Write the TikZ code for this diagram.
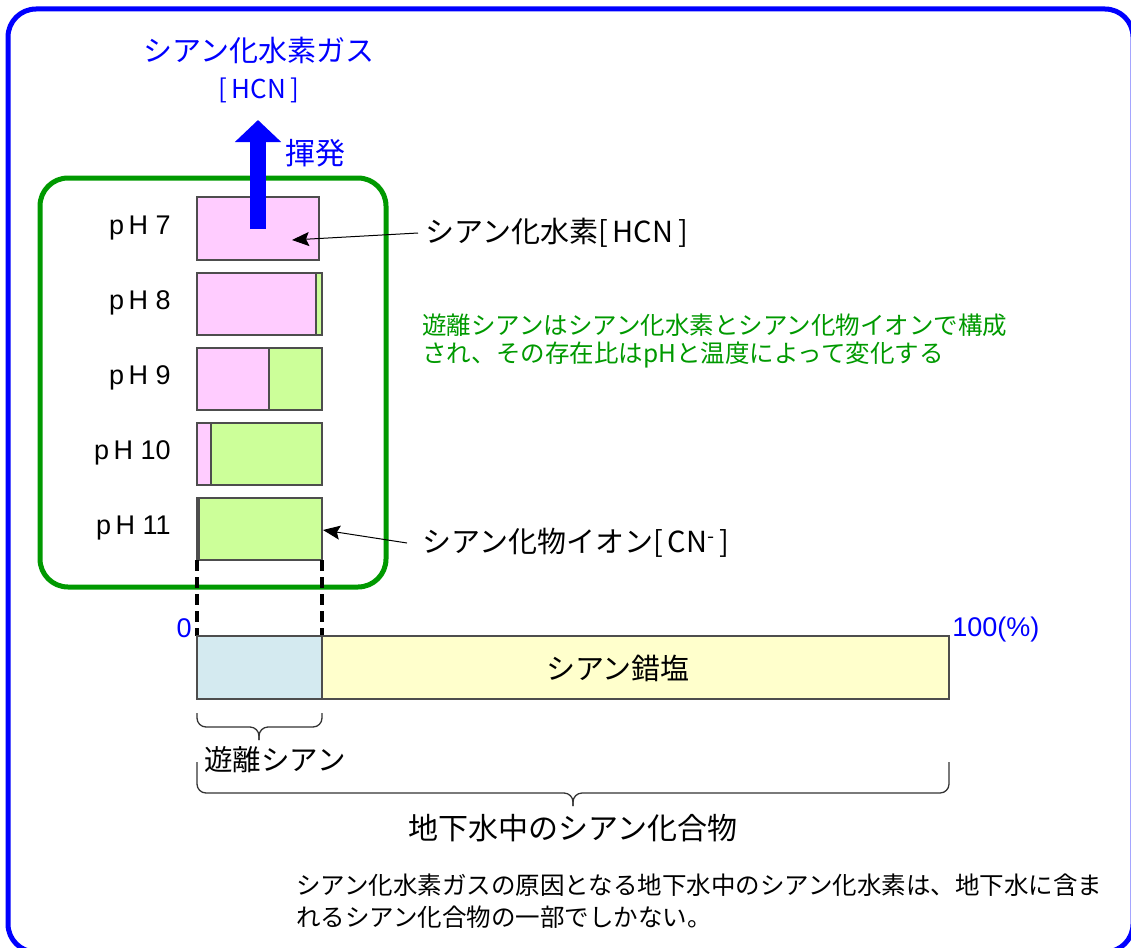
\documentclass[tikz,border=0pt]{standalone}
\usepackage{fontspec}
\setmainfont{Noto Sans CJK JP}
\newfontfamily\arialfont{Liberation Sans}
\usetikzlibrary{arrows.meta}

\definecolor{pureblue}{HTML}{0000FF}
\definecolor{boxgreen}{HTML}{009900}
\definecolor{hcnpink}{HTML}{FFCCFF}
\definecolor{cngreen}{HTML}{CCFF99}
\definecolor{freeblue}{HTML}{D4EAF0}
\definecolor{saltyellow}{HTML}{FFFFCC}
\definecolor{framegray}{HTML}{4D4D4D}

\newcommand\jpsize[2]{\fontsize{#1}{#2}\selectfont}

\begin{document}
\begin{tikzpicture}[x=1pt,y=-1pt,thick,
    every node/.style={inner sep=0pt},
    barframe/.style={draw=framegray,line width=1.2pt},
    phlabel/.style={anchor=east,font=\arialfont\jpsize{27}{30}},
    bluetext/.style={text=pureblue},
    pointer/.style={line width=1pt,-{Stealth[length=17pt,width=14pt,inset=3pt]}},
    vapour/.style={draw=pureblue,line width=16pt,-{Triangle[length=22pt,width=45pt]}},
    guide/.style={line width=3.5pt,dash pattern=on 11pt off 6pt},
    bracket/.style={draw=black!80,line width=1.3pt,rounded corners=9pt},
    groupbox/.style={draw=boxgreen,line width=5pt,rounded corners=28pt},
    outerframe/.style={draw=pureblue,line width=5pt,rounded corners=28pt}]

    \useasboundingbox (0,0) rectangle (1131,947);

    % --------------------------------------------------------- %
    % ------------- frames
    % --------------------------------------------------------- %
    \draw[outerframe] (8,9) rectangle (1133,952);
    \draw[groupbox] (40,178) rectangle (386,587);

    % --------------------------------------------------------- %
    % ------------- pH bars (HCN / CN-)
    % --------------------------------------------------------- %
    \draw[barframe,fill=hcnpink] (197,197) rectangle (319,260);

    \draw[barframe,fill=hcnpink] (197,273) rectangle (316,335);
    \draw[barframe,fill=cngreen] (316,273) rectangle (322,335);

    \draw[barframe,fill=hcnpink] (197,348) rectangle (269,410);
    \draw[barframe,fill=cngreen] (269,348) rectangle (322,410);

    \draw[barframe,fill=hcnpink] (197,423) rectangle (211,485);
    \draw[barframe,fill=cngreen] (211,423) rectangle (322,485);

    \draw[barframe,fill=hcnpink] (197,498) rectangle (199,560);
    \draw[barframe,fill=cngreen] (199,498) rectangle (322,560);

    \node[phlabel] (ph7) at (171,228) {p\,H 7};
    \node[phlabel] (ph8) at (171,303) {p\,H 8};
    \node[phlabel] (ph9) at (171,378) {p\,H 9};
    \node[phlabel] (ph10) at (171,453) {p\,H 10};
    \node[phlabel] (ph11) at (171,528) {p\,H 11};

    % --------------------------------------------------------- %
    % ------------- volatilisation
    % --------------------------------------------------------- %
    \node[bluetext,font=\jpsize{29}{32}] (gas) at (259,50) {シアン化水素ガス};
    \node[bluetext,font=\jpsize{26}{30}] (gashcn) at (259,90) {[\,HCN\,]};
    \node[bluetext,font=\jpsize{30}{32}] (volat) at (315,153) {揮発};

    \coordinate (vapbot) at (258,229);
    \coordinate (vaptop) at (258,120);
    \draw[vapour] (vapbot) -- (vaptop);

    % --------------------------------------------------------- %
    % ------------- species labels
    % --------------------------------------------------------- %
    \node[anchor=west,inner xsep=7pt,font=\jpsize{29}{32}] (hcn) at (418,233) {シアン化水素[\,HCN\,]};
    \coordinate (hcnpt) at (292,240);
    \draw[pointer] (hcn.west) -- (hcnpt);

    \node[anchor=west,inner xsep=15pt,font=\jpsize{29}{32}] (cnion) at (407,543) {シアン化物イオン[\,CN\textsuperscript{-}\,]};
    \coordinate (cnpt) at (323,530);
    \draw[pointer] (cnion.west) -- (cnpt);

    \node[anchor=west,align=left,text=boxgreen,font=\jpsize{24.5}{28}] (note) at (422,341)
        {遊離シアンはシアン化水素とシアン化物イオンで構成\\され、その存在比はpHと温度によって変化する};

    % --------------------------------------------------------- %
    % ------------- total cyanide bar
    % --------------------------------------------------------- %
    \draw[guide] (197,560) -- (197,636);
    \draw[guide] (322,560) -- (322,636);

    \draw[barframe,fill=freeblue] (197,636) rectangle (322,699);
    \draw[barframe,fill=saltyellow] (322,636) rectangle (949,699);
    \node[font=\jpsize{29}{32}] (salt) at (618,668) {シアン錯塩};

    \node[bluetext,anchor=east,font=\arialfont\jpsize{27}{30}] (zero) at (192,628) {0};
    \node[bluetext,anchor=west,font=\arialfont\jpsize{27}{30}] (hundred) at (952,630) {100(\%)};

    % --------------------------------------------------------- %
    % ------------- braces
    % --------------------------------------------------------- %
    \draw[bracket] (197,713) -- (197,727) -- (259,727) -- (259,740);
    \draw[bracket] (322,713) -- (322,727) -- (259,727) -- (259,740);
    \node[font=\jpsize{28.5}{32}] (free) at (275,760) {遊離シアン};

    \draw[bracket] (197,762) -- (197,793) -- (573,793) -- (573,806);
    \draw[bracket] (949,762) -- (949,793) -- (573,793) -- (573,806);
    \node[font=\jpsize{30}{32}] (total) at (573,828) {地下水中のシアン化合物};

    \node[anchor=west,align=left,font=\jpsize{24.5}{32}] (summary) at (296,901)
        {シアン化水素ガスの原因となる地下水中のシアン化水素は、地下水に含ま\\れるシアン化合物の一部でしかない。};

  \end{tikzpicture}
\end{document}
